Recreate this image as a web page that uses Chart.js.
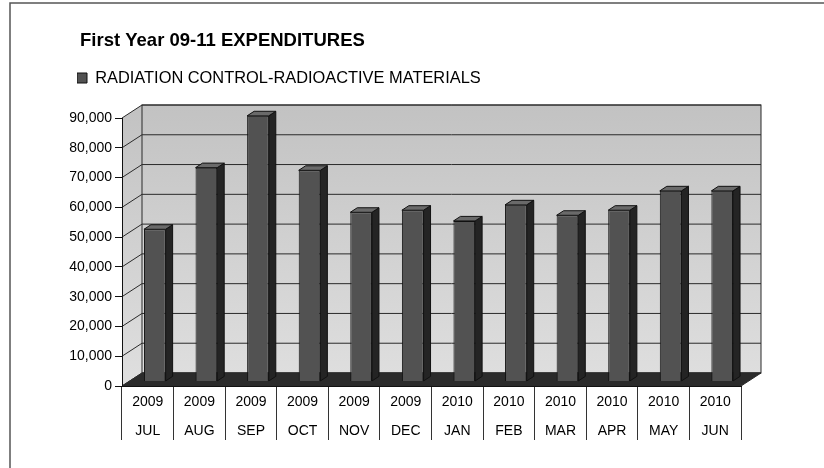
<!DOCTYPE html>
<html>
<head>
<meta charset="utf-8">
<title>First Year 09-11 EXPENDITURES</title>
<script src="https://cdn.jsdelivr.net/npm/chart.js@4.4.1/dist/chart.umd.min.js"></script>
<style>
    html, body { margin: 0; padding: 0; background: #fff; }
    #wrap { width: 824px; height: 468px; }
</style>
</head>
<body>
<div id="wrap"><canvas id="chart" width="824" height="468"></canvas></div>
<script>
const chart_title = "First Year 09-11 EXPENDITURES";
const series_name = "RADIATION CONTROL-RADIOACTIVE MATERIALS";
const years = ["2009", "2009", "2009", "2009", "2009", "2009", "2010", "2010", "2010", "2010", "2010", "2010"];
const months = ["JUL", "AUG", "SEP", "OCT", "NOV", "DEC", "JAN", "FEB", "MAR", "APR", "MAY", "JUN"];
const expenditures = [51100, 71800, 89200, 70900, 56800, 57500, 53900, 59300, 55800, 57500, 64000, 64000];
const y_min = 0;
const y_max = 90000;
const y_step = 10000;

// oblique depth of the fake 3d box (front edge -> back wall)
const DEPTH_X = 20;
const DEPTH_Y = -13;
// bars sit between these fractions of the depth
const BAR_FRONT = 0.35;
const BAR_BACK = 0.7;

Chart.defaults.font.family = "'Liberation Sans', Arial, sans-serif";
Chart.defaults.color = "#111";

const box3d = {
    id: "box3d",
    afterLayout(chart) {
        // y labels stick out left of the padding; widen the label clip box
        chart.scales.y.left = 40;
        // nudge legend a bit left so the text lines up with the original
        chart.legend.left -= 3;
    },
    beforeDraw(chart) {
        const ctx = chart.ctx;
        const area = chart.chartArea;
        const yScale = chart.scales.y;
        const bx0 = area.left + DEPTH_X, bx1 = area.right + DEPTH_X;
        const by0 = area.top + DEPTH_Y, by1 = area.bottom + DEPTH_Y;

        ctx.save();
        // outer frame of the scanned sheet
        ctx.strokeStyle = "#555";
        ctx.lineWidth = 1.5;
        ctx.beginPath();
        ctx.moveTo(10, 468);
        ctx.lineTo(10, 3);
        ctx.lineTo(824, 3);
        ctx.stroke();

        // back wall + side wall
        let grad = ctx.createLinearGradient(0, by0, 0, by1);
        grad.addColorStop(0, "#c2c2c2");
        grad.addColorStop(0.45, "#cfcfcf");
        grad.addColorStop(1, "#dedede");
        ctx.fillStyle = grad;
        ctx.fillRect(bx0, by0, bx1 - bx0, by1 - by0);
        ctx.beginPath();
        ctx.moveTo(area.left, area.top);
        ctx.lineTo(bx0, by0);
        ctx.lineTo(bx0, by1);
        ctx.lineTo(area.left, area.bottom);
        ctx.closePath();
        ctx.fill();

        // gridlines: diagonal on side wall, flat on back wall
        ctx.strokeStyle = "#2a2a2a";
        ctx.lineWidth = 1;
        yScale.ticks.forEach(t => {
            const py = yScale.getPixelForValue(t.value);
            ctx.beginPath();
            ctx.moveTo(area.left, py);
            ctx.lineTo(bx0, py + DEPTH_Y);
            ctx.lineTo(bx1, py + DEPTH_Y);
            ctx.stroke();
        });
        ctx.strokeRect(bx0, by0, bx1 - bx0, by1 - by0);

        // floor
        ctx.fillStyle = "#2b2b2b";
        ctx.beginPath();
        ctx.moveTo(area.left, area.bottom);
        ctx.lineTo(area.right, area.bottom);
        ctx.lineTo(bx1, by1);
        ctx.lineTo(bx0, by1);
        ctx.closePath();
        ctx.fill();
        ctx.stroke();
        ctx.restore();
    },
    beforeDatasetsDraw(chart) {
        chart.ctx.save();
        chart.ctx.translate(DEPTH_X * BAR_FRONT, DEPTH_Y * BAR_FRONT);
    },
    afterDatasetsDraw(chart) {
        const ctx = chart.ctx;
        const dx = DEPTH_X * (BAR_BACK - BAR_FRONT);
        const dy = DEPTH_Y * (BAR_BACK - BAR_FRONT);
        ctx.strokeStyle = "#111";
        ctx.lineWidth = 1;
        chart.getDatasetMeta(0).data.forEach(bar => {
            const {x, y, base, width} = bar.getProps(["x", "y", "base", "width"], true);
            const l = x - width / 2, r = x + width / 2;
            // right side
            ctx.fillStyle = "#242424";
            ctx.beginPath();
            ctx.moveTo(r, y);
            ctx.lineTo(r + dx, y + dy);
            ctx.lineTo(r + dx, base + dy);
            ctx.lineTo(r, base);
            ctx.closePath();
            ctx.fill();
            ctx.stroke();
            // top
            ctx.fillStyle = "#6a6a6a";
            ctx.beginPath();
            ctx.moveTo(l, y);
            ctx.lineTo(l + dx, y + dy);
            ctx.lineTo(r + dx, y + dy);
            ctx.lineTo(r, y);
            ctx.closePath();
            ctx.fill();
            ctx.stroke();
        });
        ctx.restore();
    }
};

const labels = years.map((y, i) => [y, months[i]]);

new Chart(document.getElementById("chart"), {
    type: "bar",
    data: {
        labels: labels,
        datasets: [{
            label: series_name,
            data: expenditures,
            backgroundColor: "#525252",
            borderColor: "#111",
            borderWidth: 1,
            categoryPercentage: 1,
            barPercentage: 0.42
        }]
    },
    plugins: [box3d],
    options: {
        responsive: false,
        animation: false,
        devicePixelRatio: 1,
        layout: {
            padding: { left: 80, right: 83, top: 0, bottom: 0 }
        },
        plugins: {
            title: {
                display: true,
                text: chart_title,
                align: "start",
                color: "#000",
                font: { size: 18.5, weight: "bold", lineHeight: 1.2 },
                padding: { top: 30, bottom: 17.6 }
            },
            subtitle: {
                // spacer between legend and plot
                display: true,
                text: "",
                weight: 500,
                font: { size: 10, lineHeight: 1.2 },
                padding: { top: 9.8, bottom: 0 }
            },
            legend: {
                display: true,
                align: "start",
                labels: {
                    color: "#000",
                    font: { size: 16.4 },
                    boxWidth: 10,
                    boxHeight: 10,
                    padding: 0
                }
            },
            tooltip: { enabled: false }
        },
        scales: {
            x: {
                grid: {
                    display: true,
                    drawOnChartArea: false,
                    drawTicks: true,
                    tickLength: 54,
                    color: "#333",
                    offset: true
                },
                border: { display: true, color: "#111", width: 1 },
                ticks: {
                    color: "#000",
                    font: { size: 14, lineHeight: 2.07 },
                    padding: -52.5,
                    maxRotation: 0,
                    autoSkip: false
                },
                afterFit: (scale) => { scale.height = 82; }
            },
            y: {
                min: y_min,
                max: y_max,
                grid: {
                    display: true,
                    drawOnChartArea: false,
                    tickLength: 7,
                    color: "#111"
                },
                border: { display: true, color: "#111", width: 1 },
                ticks: {
                    stepSize: y_step,
                    color: "#000",
                    font: { size: 14 },
                    padding: 3,
                    callback: (v) => v.toLocaleString("en-US")
                },
                afterFit: (scale) => { scale.width = 42; }
            }
        }
    }
});
</script>
</body>
</html>
